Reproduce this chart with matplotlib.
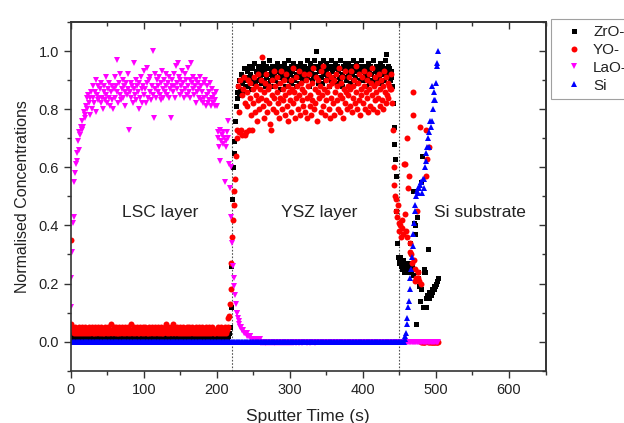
import numpy as np
import matplotlib.pyplot as plt
from matplotlib.ticker import MultipleLocator

plt.rcParams['font.family'] = ['Liberation Sans', 'DejaVu Sans']

# depth profile, one reading per second of sputtering (0 - 503 s)
sputter_time = np.arange(0, 504)

zro = [
    0.03, 0.02, 0.01, 0.02, 0.01, 0.02, 0.01, 0.02, 0.01, 0.01, 0.02, 0.01, 0.02, 0.01, 0.02, 0.01, 0.01, 0.02, 0.01, 0.02,  # 0 s
    0.01, 0.02, 0.01, 0.01, 0.02, 0.01, 0.02, 0.01, 0.02, 0.01, 0.01, 0.02, 0.01, 0.02, 0.01, 0.01, 0.02, 0.01, 0.02, 0.01,
    0.02, 0.01, 0.02, 0.01, 0.01, 0.02, 0.01, 0.02, 0.01, 0.02, 0.01, 0.01, 0.02, 0.01, 0.02, 0.01, 0.02, 0.01, 0.01, 0.02,
    0.01, 0.02, 0.01, 0.01, 0.02, 0.01, 0.02, 0.01, 0.02, 0.01, 0.01, 0.02, 0.01, 0.02, 0.01, 0.01, 0.02, 0.01, 0.02, 0.01,
    0.02, 0.01, 0.02, 0.01, 0.01, 0.02, 0.01, 0.02, 0.01, 0.02, 0.01, 0.01, 0.02, 0.01, 0.02, 0.01, 0.02, 0.01, 0.01, 0.02,
    0.01, 0.02, 0.01, 0.01, 0.02, 0.01, 0.02, 0.01, 0.02, 0.01, 0.01, 0.02, 0.01, 0.02, 0.01, 0.01, 0.02, 0.01, 0.02, 0.01,  # 100 s
    0.02, 0.01, 0.02, 0.01, 0.01, 0.02, 0.01, 0.02, 0.01, 0.02, 0.01, 0.01, 0.02, 0.01, 0.02, 0.01, 0.02, 0.01, 0.01, 0.02,
    0.01, 0.02, 0.01, 0.01, 0.02, 0.01, 0.02, 0.01, 0.02, 0.01, 0.01, 0.02, 0.01, 0.02, 0.01, 0.01, 0.02, 0.01, 0.02, 0.01,
    0.02, 0.01, 0.02, 0.01, 0.01, 0.02, 0.01, 0.02, 0.01, 0.02, 0.01, 0.01, 0.02, 0.01, 0.02, 0.01, 0.02, 0.01, 0.01, 0.02,
    0.01, 0.02, 0.01, 0.01, 0.02, 0.01, 0.02, 0.01, 0.02, 0.01, 0.01, 0.02, 0.01, 0.02, 0.01, 0.01, 0.02, 0.01, 0.02, 0.01,
    0.01, 0.02, 0.01, 0.02, 0.01, 0.01, 0.02, 0.01, 0.02, 0.01, 0.02, 0.01, 0.02, 0.02, 0.01, 0.02, 0.03, 0.03, 0.05, 0.12,  # 200 s
    0.26, 0.49, 0.60, 0.65, 0.69, 0.76, 0.81, 0.84, 0.86, 0.88, 0.85, 0.90, 0.87, 0.92, 0.89, 0.86, 0.91, 0.94, 0.88, 0.90,
    0.90, 0.93, 0.88, 0.91, 0.95, 0.89, 0.92, 0.87, 0.94, 0.90, 0.91, 0.96, 0.89, 0.93, 0.88, 0.92, 0.95, 0.90, 0.93, 0.91,
    0.94, 0.89, 0.92, 0.96, 0.90, 0.93, 0.88, 0.95, 0.91, 0.94, 0.89, 0.92, 0.97, 0.90, 0.93, 0.91, 0.95, 0.88, 0.92, 0.94,
    0.90, 0.93, 0.96, 0.91, 0.89, 0.94, 0.92, 0.87, 0.95, 0.91, 0.93, 0.90, 0.96, 0.92, 0.88, 0.94, 0.91, 0.93, 0.97, 0.90,
    0.92, 0.95, 0.89, 0.93, 0.91, 0.96, 0.90, 0.94, 0.88, 0.92, 0.95, 0.91, 0.93, 0.89, 0.96, 0.92, 0.90, 0.94, 0.91, 0.93,  # 300 s
    0.95, 0.90, 0.93, 0.97, 0.91, 0.94, 0.88, 0.92, 0.96, 0.93, 0.90, 0.94, 0.91, 0.97, 0.92, 0.95, 1.00, 0.91, 0.94, 0.89,
    0.93, 0.96, 0.91, 0.94, 0.89, 0.97, 0.92, 0.95, 0.90, 0.93, 0.96, 0.91, 0.94, 0.88, 0.92, 0.95, 0.90, 0.97, 0.93, 0.91,
    0.94, 0.90, 0.96, 0.92, 0.89, 0.95, 0.93, 0.91, 0.97, 0.90, 0.94, 0.92, 0.88, 0.95, 0.91, 0.96, 0.93, 0.90, 0.94, 0.92,
    0.96, 0.91, 0.93, 0.89, 0.95, 0.92, 0.97, 0.90, 0.94, 0.91, 0.93, 0.96, 0.89, 0.94, 0.92, 0.95, 0.90, 0.93, 0.97, 0.91,
    0.93, 0.90, 0.95, 0.92, 0.88, 0.94, 0.91, 0.96, 0.93, 0.89, 0.95, 0.92, 0.90, 0.94, 0.97, 0.91, 0.93, 0.89, 0.95, 0.92,  # 400 s
    0.90, 0.94, 0.91, 0.96, 0.93, 0.89, 0.95, 0.92, 0.94, 0.90, 0.97, 0.93, 0.99, 0.91, 0.95, 0.92, 0.94, 0.90, 0.93, 0.91,
    0.88, 0.82, 0.74, 0.68, 0.63, 0.57, 0.45, 0.34, 0.29, 0.28, 0.27, 0.29, 0.26, 0.27, 0.25, 0.28, 0.24, 0.26, 0.25, 0.27,
    0.24, 0.26, 0.27, 0.25, 0.34, 0.25, 0.24, 0.26, 0.23, 0.52, 0.41, 0.40, 0.37, 0.06, 0.43, 0.24, 0.22, 0.19, 0.14, 0.18,
    0.55, 0.64, 0.12, 0.25, 0.24, 0.24, 0.12, 0.15, 0.16, 0.32, 0.15, 0.17, 0.17, 0.16, 0.17, 0.18, 0.18, 0.19, 0.18, 0.19,
    0.20, 0.21, 0.21, 0.22,  # 500 s
]

yo = [
    0.35, 0.06, 0.05, 0.04, 0.03, 0.04, 0.05, 0.03, 0.04, 0.04, 0.03, 0.05, 0.04, 0.03, 0.04, 0.05, 0.03, 0.04, 0.03, 0.04,  # 0 s
    0.05, 0.03, 0.04, 0.04, 0.03, 0.05, 0.04, 0.03, 0.04, 0.05, 0.03, 0.04, 0.03, 0.05, 0.04, 0.03, 0.04, 0.04, 0.05, 0.03,
    0.04, 0.03, 0.05, 0.04, 0.03, 0.04, 0.03, 0.05, 0.04, 0.04, 0.03, 0.05, 0.04, 0.03, 0.04, 0.06, 0.04, 0.03, 0.04, 0.05,
    0.03, 0.04, 0.05, 0.03, 0.04, 0.03, 0.05, 0.04, 0.03, 0.04, 0.05, 0.04, 0.03, 0.04, 0.03, 0.05, 0.04, 0.04, 0.03, 0.05,
    0.04, 0.03, 0.04, 0.06, 0.04, 0.03, 0.05, 0.04, 0.03, 0.04, 0.04, 0.05, 0.03, 0.04, 0.03, 0.05, 0.04, 0.03, 0.04, 0.05,
    0.03, 0.04, 0.05, 0.04, 0.03, 0.04, 0.03, 0.05, 0.04, 0.03, 0.04, 0.05, 0.04, 0.03, 0.04, 0.03, 0.05, 0.04, 0.04, 0.03,  # 100 s
    0.05, 0.04, 0.03, 0.04, 0.05, 0.03, 0.04, 0.03, 0.04, 0.05, 0.06, 0.04, 0.03, 0.05, 0.04, 0.03, 0.04, 0.05, 0.03, 0.04,
    0.06, 0.04, 0.05, 0.03, 0.04, 0.05, 0.04, 0.03, 0.04, 0.03, 0.05, 0.04, 0.03, 0.04, 0.05, 0.03, 0.04, 0.04, 0.03, 0.05,
    0.04, 0.03, 0.05, 0.04, 0.03, 0.04, 0.05, 0.03, 0.04, 0.04, 0.03, 0.05, 0.04, 0.03, 0.04, 0.03, 0.05, 0.04, 0.03, 0.04,
    0.05, 0.03, 0.04, 0.04, 0.03, 0.05, 0.04, 0.03, 0.04, 0.05, 0.03, 0.04, 0.03, 0.04, 0.05, 0.04, 0.03, 0.04, 0.03, 0.04,
    0.04, 0.03, 0.05, 0.04, 0.03, 0.04, 0.05, 0.03, 0.04, 0.04, 0.03, 0.05, 0.04, 0.03, 0.04, 0.05, 0.08, 0.09, 0.13, 0.18,  # 200 s
    0.27, 0.36, 0.42, 0.47, 0.52, 0.56, 0.64, 0.73, 0.70, 0.88, 0.79, 0.72, 0.90, 0.73, 0.85, 0.71, 0.87, 0.91, 0.71, 0.82,
    0.72, 0.86, 0.81, 0.90, 0.73, 0.84, 0.89, 0.78, 0.73, 0.87, 0.82, 0.91, 0.79, 0.85, 0.88, 0.76, 0.92, 0.83, 0.80, 0.87,
    0.84, 0.90, 0.98, 0.81, 0.86, 0.77, 0.89, 0.83, 0.92, 0.79, 0.87, 0.82, 0.88, 0.75, 0.73, 0.90, 0.85, 0.80, 0.93, 0.84,
    0.88, 0.79, 0.86, 0.91, 0.82, 0.77, 0.89, 0.84, 0.93, 0.80, 0.87, 0.83, 0.90, 0.78, 0.85, 0.92, 0.81, 0.88, 0.76, 0.86,
    0.83, 0.90, 0.79, 0.87, 0.94, 0.82, 0.86, 0.77, 0.91, 0.84, 0.88, 0.80, 0.93, 0.85, 0.78, 0.89, 0.83, 0.87, 0.81, 0.92,  # 300 s
    0.86, 0.79, 0.90, 0.84, 0.77, 0.88, 0.92, 0.81, 0.85, 0.78, 0.89, 0.83, 0.94, 0.80, 0.87, 0.82, 0.91, 0.76, 0.86, 0.90,
    0.84, 0.88, 0.79, 0.93, 0.85, 0.81, 0.95, 0.87, 0.78, 0.90, 0.83, 0.86, 0.92, 0.80, 0.88, 0.77, 0.91, 0.84, 0.89, 0.82,
    0.90, 0.78, 0.86, 0.92, 0.83, 0.88, 0.80, 0.94, 0.85, 0.79, 0.89, 0.84, 0.91, 0.77, 0.87, 0.82, 0.93, 0.86, 0.80, 0.88,
    0.85, 0.91, 0.81, 0.87, 0.93, 0.79, 0.88, 0.84, 0.90, 0.82, 0.95, 0.86, 0.80, 0.89, 0.83, 0.92, 0.78, 0.87, 0.85, 0.91,
    0.82, 0.88, 0.93, 0.80, 0.86, 0.90, 0.84, 0.79, 0.92, 0.87, 0.81, 0.89, 0.85, 0.94, 0.80, 0.88, 0.83, 0.91, 0.86, 0.79,  # 400 s
    0.89, 0.84, 0.92, 0.81, 0.87, 0.90, 0.83, 0.88, 0.80, 0.93, 0.86, 0.82, 0.91, 0.85, 0.89, 0.84, 0.88, 0.87, 0.92, 0.87,
    0.82, 0.73, 0.60, 0.54, 0.50, 0.49, 0.45, 0.43, 0.47, 0.41, 0.38, 0.40, 0.36, 0.42, 0.39, 0.37, 0.61, 0.61, 0.44, 0.38,
    0.70, 0.36, 0.53, 0.57, 0.34, 0.31, 0.30, 0.27, 0.86, 0.78, 0.28, 0.21, 0.25, 0.22, 0.45, 0.24, 0.22, 0.21, 0.74, 0.20,
    0.00, 0.00, 0.00, 0.00, 0.00, 0.00, 0.57, 0.73, 0.63, 0.00, 0.67, 0.00, 0.00, 0.00, 0.00, 0.00, 0.00, 0.00, 0.00, 0.00,
    0.00, 0.00, 0.00, 0.00,  # 500 s
]

lao = [
    0.12, 0.22, 0.31, 0.41, 0.43, 0.55, 0.58, 0.61, 0.65, 0.62, 0.69, 0.66, 0.72, 0.71, 0.74, 0.73, 0.76, 0.74, 0.79, 0.77,  # 0 s
    0.78, 0.81, 0.84, 0.80, 0.85, 0.82, 0.78, 0.84, 0.86, 0.80, 0.88, 0.84, 0.82, 0.86, 0.79, 0.90, 0.85, 0.83, 0.88, 0.84,
    0.87, 0.82, 0.89, 0.84, 0.80, 0.86, 0.88, 0.83, 0.91, 0.85, 0.82, 0.87, 0.84, 0.89, 0.81, 0.86, 0.88, 0.83, 0.80, 0.87,
    0.91, 0.84, 0.88, 0.97, 0.86, 0.82, 0.89, 0.85, 0.92, 0.83, 0.87, 0.90, 0.84, 0.88, 0.81, 0.86, 0.89, 0.85, 0.92, 0.87,
    0.73, 0.86, 0.89, 0.84, 0.88, 0.82, 0.87, 0.96, 0.85, 0.90, 0.83, 0.88, 0.86, 0.80, 0.89, 0.84, 0.91, 0.87, 0.82, 0.88,
    0.85, 0.93, 0.87, 0.82, 0.94, 0.89, 0.84, 0.90, 0.86, 0.91, 0.83, 0.88, 1.00, 0.85, 0.77, 0.92, 0.87, 0.84, 0.90, 0.86,  # 100 s
    0.88, 0.91, 0.85, 0.89, 0.83, 0.93, 0.87, 0.84, 0.90, 0.86, 0.92, 0.88, 0.85, 0.89, 0.84, 0.91, 0.87, 0.77, 0.88, 0.90,
    0.86, 0.92, 0.88, 0.84, 0.95, 0.89, 0.87, 0.96, 0.91, 0.85, 0.90, 0.88, 0.93, 0.86, 0.89, 0.84, 0.92, 0.87, 0.90, 0.85,
    0.88, 0.94, 0.86, 0.90, 0.84, 0.96, 0.89, 0.87, 0.91, 0.85, 0.88, 0.82, 0.90, 0.86, 0.89, 0.84, 0.87, 0.91, 0.83, 0.88,
    0.86, 0.82, 0.89, 0.84, 0.90, 0.81, 0.85, 0.88, 0.82, 0.86, 0.83, 0.89, 0.81, 0.84, 0.87, 0.82, 0.85, 0.81, 0.83, 0.86,
    0.81, 0.72, 0.70, 0.67, 0.62, 0.73, 0.69, 0.71, 0.68, 0.72, 0.70, 0.55, 0.69, 0.67, 0.72, 0.70, 0.76, 0.61, 0.53, 0.60,  # 200 s
    0.43, 0.34, 0.26, 0.22, 0.19, 0.16, 0.13, 0.10, 0.10, 0.08, 0.07, 0.06, 0.05, 0.05, 0.04, 0.04, 0.04, 0.03, 0.03, 0.03,
    0.03, 0.03, 0.02, 0.02, 0.02, 0.02, 0.02, 0.01, 0.01, 0.01, 0.01, 0.01, 0.01, 0.01, 0.01, 0.01, 0.00, 0.01, 0.00, 0.01,
    0.00, -0.005, 0.00, -0.005, 0.00, 0.00, -0.005, 0.00, -0.005, 0.00, -0.005, 0.00, 0.00, -0.005, 0.00, -0.005, 0.00, 0.00, -0.005, 0.00,
    -0.005, 0.00, 0.00, -0.005, 0.00, -0.005, 0.00, 0.00, -0.005, 0.00, 0.00, -0.005, 0.00, -0.005, 0.00, 0.00, -0.005, 0.00, 0.00, -0.005,
    0.00, 0.00, -0.005, 0.00, 0.00, -0.005, 0.00, 0.00, 0.00, -0.005, 0.00, 0.00, -0.005, 0.00, 0.00, 0.00, -0.005, 0.00, 0.00, 0.00,  # 300 s
    0.00, 0.00, 0.00, -0.005, 0.00, 0.00, 0.00, 0.00, -0.005, 0.00, 0.00, 0.00, 0.00, 0.00, -0.005, 0.00, 0.00, 0.00, 0.00, 0.00,
    0.00, 0.00, 0.00, 0.00, 0.00, 0.00, 0.00, 0.00, 0.00, 0.00, 0.00, 0.00, 0.00, 0.00, 0.00, 0.00, 0.00, 0.00, 0.00, 0.00,
    0.00, 0.00, 0.00, 0.00, 0.00, 0.00, 0.00, 0.00, 0.00, 0.00, 0.00, 0.00, 0.00, 0.00, 0.00, 0.00, 0.00, 0.00, 0.00, 0.00,
    0.00, 0.00, 0.00, 0.00, 0.00, 0.00, 0.00, 0.00, 0.00, 0.00, 0.00, 0.00, 0.00, 0.00, 0.00, 0.00, 0.00, 0.00, 0.00, 0.00,
    0.00, 0.00, 0.00, 0.00, 0.00, 0.00, 0.00, 0.00, 0.00, 0.00, 0.00, 0.00, 0.00, 0.00, 0.00, 0.00, 0.00, 0.00, 0.00, 0.00,  # 400 s
    0.00, 0.00, 0.00, 0.00, 0.00, 0.00, 0.00, 0.00, 0.00, 0.00, 0.00, 0.00, 0.00, 0.00, 0.00, 0.00, 0.00, 0.00, 0.00, 0.00,
    0.00, 0.00, 0.00, 0.00, 0.00, 0.00, 0.00, 0.00, 0.00, 0.00, 0.00, 0.00, 0.00, 0.00, 0.00, 0.00, 0.00, 0.00, 0.00, 0.00,
    0.00, 0.00, 0.00, 0.00, 0.00, 0.00, 0.00, 0.00, 0.00, 0.00, 0.00, 0.00, 0.00, 0.00, 0.00, 0.00, 0.00, 0.00, 0.00, 0.00,
    0.00, 0.00, 0.00, 0.00, 0.00, 0.00, 0.00, 0.00, 0.00, 0.00, 0.00, 0.00, 0.00, 0.00, 0.00, 0.00, 0.00, 0.00, 0.00, 0.00,
    0.00, 0.00, 0.00, 0.00,  # 500 s
]

si = [
    0.00, 0.00, 0.00, 0.00, 0.00, 0.00, 0.00, 0.00, 0.00, 0.00, 0.00, 0.00, 0.00, 0.00, 0.00, 0.00, 0.00, 0.00, 0.00, 0.00,  # 0 s
    0.00, 0.00, 0.00, 0.00, 0.00, 0.00, 0.00, 0.00, 0.00, 0.00, 0.00, 0.00, 0.00, 0.00, 0.00, 0.00, 0.00, 0.00, 0.00, 0.00,
    0.00, 0.00, 0.00, 0.00, 0.00, 0.00, 0.00, 0.00, 0.00, 0.00, 0.00, 0.00, 0.00, 0.00, 0.00, 0.00, 0.00, 0.00, 0.00, 0.00,
    0.00, 0.00, 0.00, 0.00, 0.00, 0.00, 0.00, 0.00, 0.00, 0.00, 0.00, 0.00, 0.00, 0.00, 0.00, 0.00, 0.00, 0.00, 0.00, 0.00,
    0.00, 0.00, 0.00, 0.00, 0.00, 0.00, 0.00, 0.00, 0.00, 0.00, 0.00, 0.00, 0.00, 0.00, 0.00, 0.00, 0.00, 0.00, 0.00, 0.00,
    0.00, 0.00, 0.00, 0.00, 0.00, 0.00, 0.00, 0.00, 0.00, 0.00, 0.00, 0.00, 0.00, 0.00, 0.00, 0.00, 0.00, 0.00, 0.00, 0.00,  # 100 s
    0.00, 0.00, 0.00, 0.00, 0.00, 0.00, 0.00, 0.00, 0.00, 0.00, 0.00, 0.00, 0.00, 0.00, 0.00, 0.00, 0.00, 0.00, 0.00, 0.00,
    0.00, 0.00, 0.00, 0.00, 0.00, 0.00, 0.00, 0.00, 0.00, 0.00, 0.00, 0.00, 0.00, 0.00, 0.00, 0.00, 0.00, 0.00, 0.00, 0.00,
    0.00, 0.00, 0.00, 0.00, 0.00, 0.00, 0.00, 0.00, 0.00, 0.00, 0.00, 0.00, 0.00, 0.00, 0.00, 0.00, 0.00, 0.00, 0.00, 0.00,
    0.00, 0.00, 0.00, 0.00, 0.00, 0.00, 0.00, 0.00, 0.00, 0.00, 0.00, 0.00, 0.00, 0.00, 0.00, 0.00, 0.00, 0.00, 0.00, 0.00,
    0.00, 0.00, 0.00, 0.00, 0.00, 0.00, 0.00, 0.00, 0.00, 0.00, 0.00, 0.00, 0.00, 0.00, 0.00, 0.00, 0.00, 0.00, 0.00, 0.00,  # 200 s
    0.00, 0.00, 0.00, 0.00, 0.00, 0.00, 0.00, 0.00, 0.00, 0.00, 0.00, 0.00, 0.00, 0.00, 0.00, 0.00, 0.00, 0.00, 0.00, 0.00,
    0.00, 0.00, 0.00, 0.00, 0.00, 0.00, 0.00, 0.00, 0.00, 0.00, 0.00, 0.00, 0.00, 0.00, 0.00, 0.00, 0.00, 0.00, 0.00, 0.00,
    0.00, 0.00, 0.00, 0.00, 0.00, 0.00, 0.00, 0.00, 0.00, 0.00, 0.00, 0.00, 0.00, 0.00, 0.00, 0.00, 0.00, 0.00, 0.00, 0.00,
    0.00, 0.00, 0.00, 0.00, 0.00, 0.00, 0.00, 0.00, 0.00, 0.00, 0.00, 0.00, 0.00, 0.00, 0.00, 0.00, 0.00, 0.00, 0.00, 0.00,
    0.00, 0.00, 0.00, 0.00, 0.00, 0.00, 0.00, 0.00, 0.00, 0.00, 0.00, 0.00, 0.00, 0.00, 0.00, 0.00, 0.00, 0.00, 0.00, 0.00,  # 300 s
    0.00, 0.00, 0.00, 0.00, 0.00, 0.00, 0.00, 0.00, 0.00, 0.00, 0.00, 0.00, 0.00, 0.00, 0.00, 0.00, 0.00, 0.00, 0.00, 0.00,
    0.00, 0.00, 0.00, 0.00, 0.00, 0.00, 0.00, 0.00, 0.00, 0.00, 0.00, 0.00, 0.00, 0.00, 0.00, 0.00, 0.00, 0.00, 0.00, 0.00,
    0.00, 0.00, 0.00, 0.00, 0.00, 0.00, 0.00, 0.00, 0.00, 0.00, 0.00, 0.00, 0.00, 0.00, 0.00, 0.00, 0.00, 0.00, 0.00, 0.00,
    0.00, 0.00, 0.00, 0.00, 0.00, 0.00, 0.00, 0.00, 0.00, 0.00, 0.00, 0.00, 0.00, 0.00, 0.00, 0.00, 0.00, 0.00, 0.00, 0.00,
    0.00, 0.00, 0.00, 0.00, 0.00, 0.00, 0.00, 0.00, 0.00, 0.00, 0.00, 0.00, 0.00, 0.00, 0.00, 0.00, 0.00, 0.00, 0.00, 0.00,  # 400 s
    0.00, 0.00, 0.00, 0.00, 0.00, 0.00, 0.00, 0.00, 0.00, 0.00, 0.00, 0.00, 0.00, 0.00, 0.00, 0.00, 0.00, 0.00, 0.00, 0.00,
    0.00, 0.00, 0.00, 0.00, 0.00, 0.00, 0.00, 0.00, 0.00, 0.00, 0.00, 0.00, 0.00, 0.00, 0.00, 0.00, 0.00, 0.01, 0.02, 0.03,
    0.06, 0.08, 0.12, 0.14, 0.18, 0.22, 0.25, 0.29, 0.33, 0.37, 0.41, 0.45, 0.47, 0.50, 0.52, 0.51, 0.53, 0.53, 0.54, 0.55,
    0.55, 0.51, 0.56, 0.53, 0.56, 0.60, 0.62, 0.65, 0.67, 0.70, 0.67, 0.72, 0.76, 0.74, 0.88, 0.76, 0.80, 0.83, 0.86, 0.83,
    0.89, 0.96, 0.95, 1.00,  # 500 s
]

series = [
    ('ZrO-', zro, 's', 'black', 3.6),
    ('YO-', yo, 'o', 'red', 4.3),
    ('LaO-', lao, 'v', 'magenta', 4.8),
    ('Si', si, '^', 'blue', 4.8),
]

# interfaces and layer names
interfaces = [221, 450]
layer_names = ['LSC layer', 'YSZ layer', 'Si substrate']
layer_centres = [122, 340, 560]

fig = plt.figure(figsize=(6.24, 4.23), dpi=100)
ax = fig.add_axes([0.1133, 0.1236, 0.7609, 0.8244])

for label, vals, mk, col, ms in series:
    ax.plot(sputter_time, vals, linestyle='none', marker=mk, color=col,
            markersize=ms, markeredgewidth=0, label=label)

for x in interfaces:
    ax.axvline(x, color='#555555', linestyle=(0, (1.5, 1.5)), linewidth=0.8, zorder=0)

for name, xc in zip(layer_names, layer_centres):
    ax.text(xc, 0.445, name, ha='center', va='center', fontsize=12.5, color='#222222')

ax.set_xlim(0, 650)
ax.set_ylim(-0.1, 1.1)
ax.set_xticks([0, 100, 200, 300, 400, 500, 600])
ax.xaxis.set_minor_locator(MultipleLocator(50))
ax.yaxis.set_major_locator(MultipleLocator(0.2))
ax.yaxis.set_minor_locator(MultipleLocator(0.1))
ax.yaxis.set_major_formatter(plt.FormatStrFormatter('%.1f'))

ax.tick_params(which='both', direction='out', color='#333333', labelsize=10.5,
               labelcolor='#222222', width=1)
ax.tick_params(which='major', length=5)
ax.tick_params(which='minor', length=3)

# mirrored ticks on top and right point inwards
top = ax.secondary_xaxis('top')
top.xaxis.set_major_locator(MultipleLocator(100))
top.xaxis.set_minor_locator(MultipleLocator(50))
top.tick_params(which='both', direction='in', labeltop=False, color='#333333', width=1)
top.tick_params(which='major', length=5)
top.tick_params(which='minor', length=3)
right = ax.secondary_yaxis('right')
right.yaxis.set_major_locator(MultipleLocator(0.2))
right.yaxis.set_minor_locator(MultipleLocator(0.1))
right.tick_params(which='both', direction='in', labelright=False, color='#333333', width=1)
right.tick_params(which='major', length=5)
right.tick_params(which='minor', length=3)

for sp in list(ax.spines.values()) + [top.spines['top'], right.spines['right']]:
    sp.set_color('#333333')
    sp.set_linewidth(1.2)

ax.set_xlabel('Sputter Time (s)', fontsize=12.5, color='#222222', labelpad=9)
ax.set_ylabel('Normalised Concentrations', fontsize=11.5, color='#222222', labelpad=6)

leg = ax.legend(loc='upper left', bbox_to_anchor=(551 / 624, 1 - 19 / 423),
                bbox_transform=fig.transFigure, frameon=True, fancybox=False,
                fontsize=11, handlelength=2.2, handletextpad=0.15,
                borderpad=0.4, labelspacing=0.25, borderaxespad=0)
leg.get_frame().set_edgecolor('#888888')
leg.get_frame().set_linewidth(0.8)
for t in leg.get_texts():
    t.set_color('#222222')

fig.savefig('out.png', dpi=100)
